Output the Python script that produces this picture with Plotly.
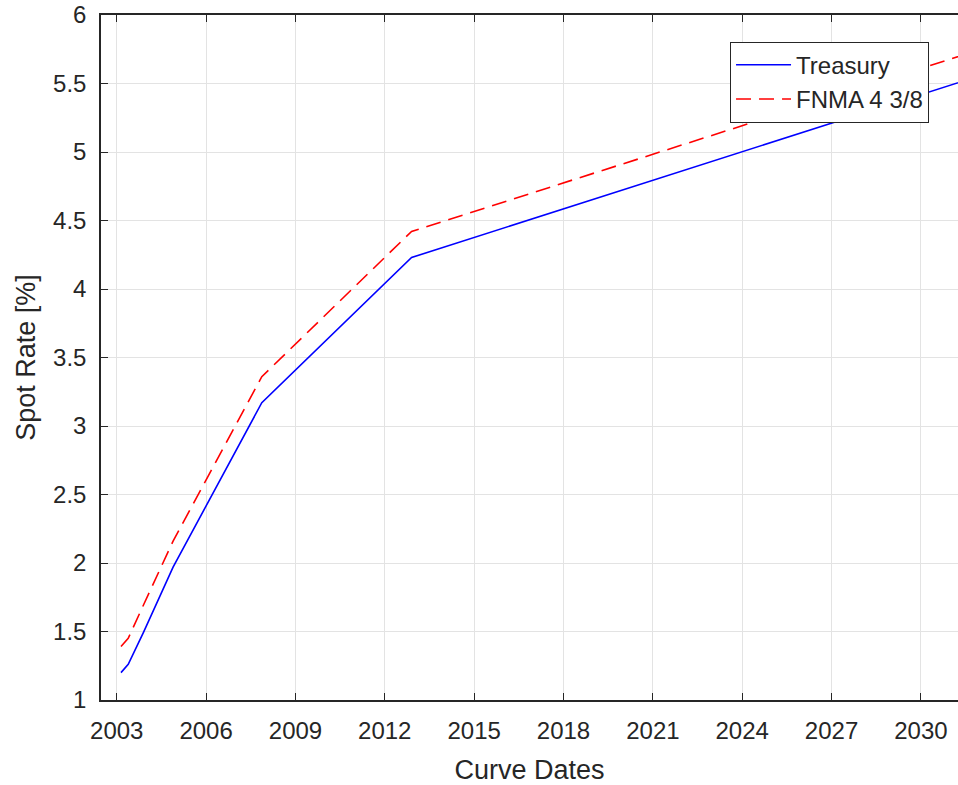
import plotly.graph_objects as go

# Curve dates (settle ~ Nov 2002, maturities 3m..30y)
curve_dates = ["2003-02-22", "2003-05-22", "2003-11-22", "2004-11-22",
               "2007-11-15", "2012-11-25", "2032-11-22"]
treasury_rates = [1.20, 1.26, 1.49, 1.97, 3.17, 4.23, 5.62]
fnma_rates = [1.39, 1.45, 1.69, 2.16, 3.36, 4.42, 5.81]

x_ticks = ["2003", "2006", "2009", "2012", "2015", "2018", "2021", "2024", "2027", "2030"]
y_ticks = [1, 1.5, 2, 2.5, 3, 3.5, 4, 4.5, 5, 5.5, 6]

axis_color = "#262626"
grid_color = "#e3e3e3"
font_family = "Liberation Sans, Arial, sans-serif"

fig = go.Figure()
fig.add_trace(go.Scatter(x=curve_dates, y=treasury_rates, name="Treasury", mode="lines",
                         line=dict(color="#0000ff", width=1.6)))
fig.add_trace(go.Scatter(x=curve_dates, y=fnma_rates, name="FNMA 4 3/8", mode="lines",
                         line=dict(color="#ff0000", width=1.6, dash="15px,8px")))

fig.update_layout(
    width=958, height=785,
    margin=dict(l=101, r=0, t=15, b=85),
    paper_bgcolor="white", plot_bgcolor="white",
    font=dict(family=font_family, color=axis_color, size=24),
    showlegend=True,
    legend=dict(x=0.734, y=0.961, xanchor="left", yanchor="top",
                bgcolor="white", bordercolor=axis_color, borderwidth=1,
                itemwidth=55, tracegroupgap=0,
                font=dict(size=24, color=axis_color)),
)

fig.update_xaxes(
    type="date",
    range=["2002-06-22", "2031-04-01"],
    tickvals=[f"{t}-01-01" for t in x_ticks], ticktext=x_ticks,
    showgrid=True, gridcolor=grid_color, gridwidth=1,
    showline=True, linecolor=axis_color, linewidth=1.5, mirror="ticks",
    ticks="inside", ticklen=7, tickcolor=axis_color,
    tickfont=dict(size=24, color=axis_color), ticklabelstandoff=8,
    ticklabeloverflow="allow", automargin=False,
    title=dict(text="Curve Dates", font=dict(size=27, color=axis_color), standoff=20),
    zeroline=False,
)
# right side of the box is cut off in the original, so no mirrored y line
fig.update_yaxes(
    range=[1, 6],
    tickvals=y_ticks,
    showgrid=True, gridcolor=grid_color, gridwidth=1,
    showline=True, linecolor=axis_color, linewidth=1.5, mirror=False,
    ticks="inside", ticklen=7, tickcolor=axis_color,
    tickfont=dict(size=24, color=axis_color), ticklabelstandoff=8,
    ticklabeloverflow="allow", automargin=False,
    title=dict(text="Spot Rate [%]", font=dict(size=27, color=axis_color), standoff=10),
    zeroline=False,
)

# drop the default 8px body margin so the figure fills the window
fig.write_html("out.html", config={"displayModeBar": False},
               post_script="document.body.style.margin = '0';")
